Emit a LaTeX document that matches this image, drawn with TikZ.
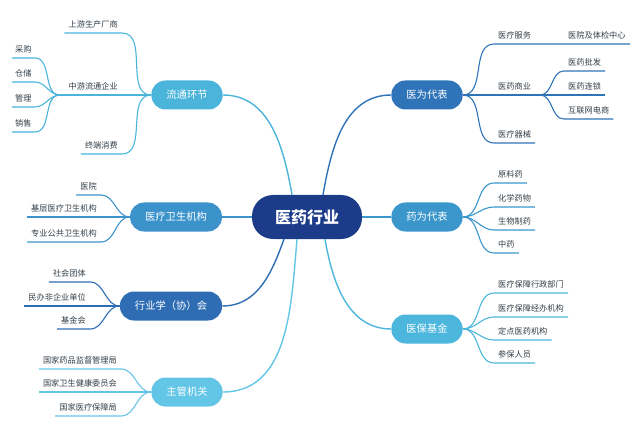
\documentclass[tikz,border=0pt]{standalone}
\usepackage{fontspec}
\setmainfont{Noto Sans CJK SC}
\definecolor{cnavy}{HTML}{1C3C8A}
\definecolor{ctl}{HTML}{4AB4DB}
\definecolor{cyl}{HTML}{3C93CC}
\definecolor{chy}{HTML}{2E6DB4}
\definecolor{czg}{HTML}{63C6E6}
\definecolor{cyw}{HTML}{2F73B8}
\definecolor{cyao}{HTML}{3A96CB}
\definecolor{cyb}{HTML}{4CB6DC}
\definecolor{ctext}{HTML}{333F48}

\begin{document}
\begin{tikzpicture}[x=1pt, y=1pt,
  root/.style={fill=cnavy, text=white, font=\fontsize{16}{18}\selectfont\bfseries,
    rounded corners=21pt, minimum height=44pt, inner xsep=23pt},
  branch/.style={fill=#1, text=white, font=\fontsize{10.3}{12}\selectfont,
    rounded corners=14pt, minimum height=29pt, inner xsep=15pt},
  leaf/.style={text=ctext, font=\fontsize{8.2}{10}\selectfont, inner xsep=4pt, inner ysep=4.5pt},
  lline/.style={draw=#1, line width=1.1pt},
  mline/.style={draw=#1, line width=1.4pt}]
  \useasboundingbox (0,0) rectangle (634,445);

  % centre and main branches
  \node[root] (yyhy) at (307,228) {医药行业};
  \node[branch=ctl] (ltbj) at (187,350) {流通环节};
  \node[branch=cyl] (ylws) at (176,228) {医疗卫生机构};
  \node[branch=chy] (hyxh) at (171,139) {行业学（协）会};
  \node[branch=czg] (zgjg) at (187,53) {主管机关};
  \node[branch=cyw] (ywdb) at (427,350) {医为代表};
  \node[branch=cyao] (yaodb) at (427,228) {药为代表};
  \node[branch=cyb] (ybjj) at (427,116) {医保基金};

  \draw[mline=ctl] (ltbj.east) to[out=0,in=100] ([xshift=-15pt]yyhy.north);
  \draw[mline=cyw] (ywdb.west) to[out=180,in=80] ([xshift=16pt]yyhy.north);
  \draw[mline=cyl] (ylws.east) -- (yyhy.west);
  \draw[mline=cyao] (yaodb.west) -- (yyhy.east);
  \draw[mline=chy] (hyxh.east) to[out=0,in=250] ([xshift=-23pt]yyhy.south);
  \draw[mline=czg] (zgjg.east) to[out=0,in=265] ([xshift=-10pt]yyhy.south);
  \draw[mline=cyb] (ybjj.west) to[out=180,in=280] ([xshift=18pt]yyhy.south);

  % 流通环节
  \node[leaf, anchor=south east] (sysc) at (122,412) {上游生产厂商};
  \node[leaf, anchor=south east] (zylt) at (122,350) {中游流通企业};
  \node[leaf, anchor=south east] (zdxf) at (122,291) {终端消费};
  \coordinate (zyhub) at (60,350);
  \draw[lline=ctl] (ltbj.west) to[out=180,in=0] (sysc.south east) -- (sysc.south west);
  \draw[lline=ctl] (ltbj.west) -- (zyhub);
  \draw[lline=ctl] (ltbj.west) to[out=180,in=0] (zdxf.south east) -- (zdxf.south west);
  \foreach \n/\y/\t in {cg/387/采购, cc/363/仓储, gl/338/管理, xs/313/销售} {
    \node[leaf, anchor=south west, inner xsep=3pt] (\n) at (12,\y) {\t};
    \draw[lline=ctl] (zyhub) to[out=180,in=0] (\n.south east) -- (\n.south west);
  }

  % 医疗卫生机构
  \foreach \n/\y/\t in {yy/250/医院, jc/228/基层医疗卫生机构, zg/203/专业公共卫生机构} {
    \node[leaf, anchor=south east] (\n) at (101,\y) {\t};
    \draw[lline=cyl] (ylws.west) to[out=180,in=0] (\n.south east) -- (\n.south west);
  }

  % 行业学（协）会
  \foreach \n/\y/\t in {shtt/163/社会团体, mbf/139/民办非企业单位, jjh/116/基金会} {
    \node[leaf, anchor=south east] (\n) at (90,\y) {\t};
    \draw[lline=chy] (hyxh.west) to[out=180,in=0] (\n.south east) -- (\n.south west);
  }

  % 主管机关
  \foreach \n/\y/\t in {yjj/76/国家药品监督管理局, wjw/53/国家卫生健康委员会, ybj/29/国家医疗保障局} {
    \node[leaf, anchor=south east] (\n) at (121,\y) {\t};
    \draw[lline=czg] (zgjg.west) to[out=180,in=0] (\n.south east) -- (\n.south west);
  }

  % 医为代表
  \node[leaf, anchor=south west] (ylfw) at (494,401) {医疗服务};
  \node[leaf, anchor=south west] (tjzx) at (564,401) {医院及体检中心};
  \node[leaf, anchor=south west] (yysy) at (494,350) {医药商业};
  \node[leaf, anchor=south west] (ylqx) at (494,302) {医疗器械};
  \coordinate (syhub) at (540,350);
  \draw[lline=cyw] (ywdb.east) to[out=0,in=180] (ylfw.south west) -- (tjzx.south east);
  \draw[lline=cyw] (ywdb.east) -- (syhub);
  \draw[lline=cyw] (ywdb.east) to[out=0,in=180] (ylqx.south west) -- (ylqx.south east);
  \foreach \n/\y/\t in {yypf/374/医药批发, yyls/350/医药连锁, hlw/326/互联网电商} {
    \node[leaf, anchor=south west] (\n) at (564,\y) {\t};
    \draw[lline=cyw] (syhub) to[out=0,in=180] (\n.south west) -- (\n.south east);
  }

  % 药为代表
  \foreach \n/\y/\t in {ylyao/262/原料药, hxyw/238/化学药物, swzy/215/生物制药, zyao/192/中药} {
    \node[leaf, anchor=south west] (\n) at (494,\y) {\t};
    \draw[lline=cyao] (yaodb.east) to[out=0,in=180] (\n.south west) -- (\n.south east);
  }

  % 医保基金
  \foreach \n/\y/\t in {xzbm/152/医疗保障行政部门, jbjg/128/医疗保障经办机构, ddyy/105/定点医药机构, cbry/82/参保人员} {
    \node[leaf, anchor=south west] (\n) at (494,\y) {\t};
    \draw[lline=cyb] (ybjj.east) to[out=0,in=180] (\n.south west) -- (\n.south east);
  }
\end{tikzpicture}
\end{document}
